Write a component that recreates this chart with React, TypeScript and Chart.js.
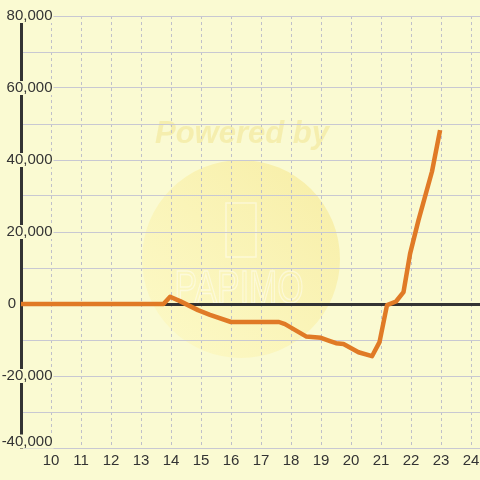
import React, { useEffect, useRef } from "react";
import { Chart, registerables } from "chart.js";

Chart.register(...registerables);

// ---- data ----
const xValues = [9, 13.75, 13.97, 14.3, 14.9, 15.3, 16, 17.6, 17.8, 18.5, 19, 19.3, 19.5, 19.75, 20.25, 20.7, 20.95, 21.2, 21.5, 21.75, 21.97, 22.25, 22.7, 22.97];
const yValues = [0, 0, 2000, 800, -1700, -3000, -5000, -5000, -5600, -9000, -9400, -10300, -10900, -11100, -13400, -14500, -10600, -300, 700, 3300, 14000, 23300, 36800, 48300];
const xTickValues = [10, 11, 12, 13, 14, 15, 16, 17, 18, 19, 20, 21, 22, 23, 24];
const yLabelValues = [80000, 60000, 40000, 20000, 0, -20000, -40000];

const BG = "#fafad2";
const FONT = '"Liberation Sans", Arial, sans-serif';

const bgPlugin = {
  id: "bgWatermark",
  beforeDraw(chart: any) {
    const ctx = chart.ctx;
    ctx.save();
    ctx.fillStyle = BG;
    ctx.fillRect(0, 0, chart.width, chart.height);
    const g = ctx.createLinearGradient(160, 340, 320, 180);
    g.addColorStop(0, "rgba(255,245,170,0.35)");
    g.addColorStop(1, "rgba(245,225,120,0.45)");
    ctx.fillStyle = g;
    ctx.beginPath();
    ctx.arc(241, 259, 99, 0, Math.PI * 2);
    ctx.fill();
    ctx.fillStyle = "rgba(240,225,130,0.45)";
    ctx.font = "italic bold 31px " + FONT;
    ctx.textAlign = "center";
    ctx.textBaseline = "middle";
    ctx.fillText("Powered by", 242, 134);
    ctx.strokeStyle = "rgba(255,255,255,0.45)";
    ctx.lineWidth = 1.5;
    ctx.strokeRect(226, 203, 30, 54);
    ctx.save();
    ctx.translate(239, 290);
    ctx.scale(0.72, 1);
    ctx.font = "47px " + FONT;
    ctx.strokeText("PAPIMO", 0, 0);
    ctx.restore();
    ctx.restore();
  },
};

const yLabelPlugin = {
  id: "yLabels",
  afterDraw(chart: any) {
    const ctx = chart.ctx;
    const ys = chart.scales.y;
    const area = chart.chartArea;
    ctx.save();
    ctx.font = "15px " + FONT;
    ctx.textBaseline = "middle";
    ctx.textAlign = "left";
    for (const v of yLabelValues) {
      const text = v.toLocaleString("en-US");
      const w = ctx.measureText(text).width;
      const py = Math.min(ys.getPixelForValue(v), area.bottom - 6.5);
      const x0 = text.length > 1 ? 52.5 - w : 7.7;
      ctx.fillStyle = BG;
      ctx.fillRect(x0 - 2, py - 7, w + 3, 14);
      ctx.fillStyle = "#333";
      ctx.fillText(text, x0, py);
    }
    ctx.restore();
  },
};

export default function App() {
  const ref = useRef<HTMLCanvasElement | null>(null);
  useEffect(() => {
    if (!ref.current) return;
    const chart = new Chart(ref.current, {
      type: "line",
      data: {
        datasets: [
          {
            data: xValues.map((x, i) => ({ x, y: yValues[i] })),
            borderColor: "#e07a26",
            borderWidth: 4.5,
            pointRadius: 0,
            tension: 0,
            borderJoinStyle: "round",
            borderCapStyle: "butt",
            fill: false,
          },
        ],
      },
      options: {
        responsive: false,
        animation: false,
        maintainAspectRatio: false,
        layout: { padding: { top: 16, left: 0, right: 0, bottom: 0 } },
        plugins: { legend: { display: false }, tooltip: { enabled: false } },
        scales: {
          x: {
            type: "linear",
            min: 9,
            max: 24.3,
            afterBuildTicks: (scale: any) => {
              scale.ticks = xTickValues.map((v) => ({ value: v }));
            },
            afterFit: (scale: any) => {
              scale.height = 32;
              scale.paddingRight = 0;
              scale.paddingLeft = 0;
            },
            ticks: {
              color: "#333",
              font: { size: 15, family: FONT },
              padding: 4,
              maxRotation: 0,
              autoSkip: false,
            },
            grid: {
              color: "rgba(185,185,200,0.9)",
              lineWidth: 1,
              drawTicks: false,
            },
            border: { display: false, dash: [3, 3] },
          },
          y: {
            type: "linear",
            min: -40000,
            max: 80000,
            afterFit: (scale: any) => {
              scale.width = 21;
            },
            ticks: { display: false, stepSize: 10000 },
            grid: {
              drawTicks: false,
              color: (c: any) => (c.tick && c.tick.value === 0 ? "#333" : "#c8c8d2"),
              lineWidth: (c: any) => (c.tick && c.tick.value === 0 ? 3 : 1),
            },
            border: { display: true, color: "#333", width: 3 },
          },
        },
      } as any,
      plugins: [bgPlugin, yLabelPlugin],
    });
    return () => chart.destroy();
  }, []);
  return (
    <div style={{ position: "fixed", left: 0, top: 0, width: 480, height: 480, background: BG }}>
      <canvas ref={ref} width={480} height={480} style={{ width: 480, height: 480, display: "block" }} />
    </div>
  );
}
